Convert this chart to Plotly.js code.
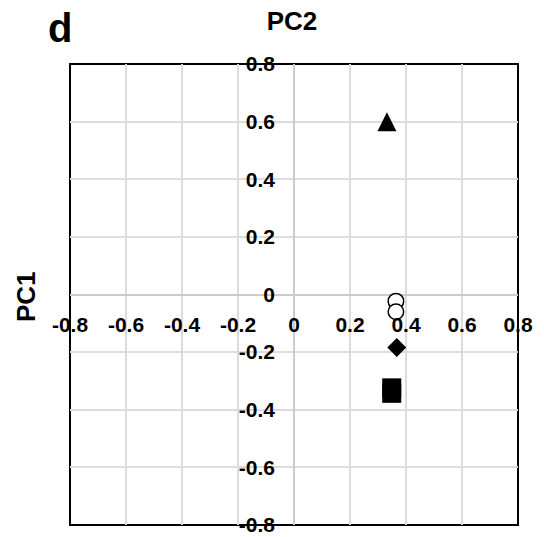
<!DOCTYPE html>
<html>
<head>
<meta charset="utf-8">
<script src="https://cdn.plot.ly/plotly-3.0.1.min.js"></script>
<style>html,body{margin:0;padding:0;background:#fff;}#chart{width:544px;height:537px;}</style>
</head>
<body>
<div id="chart"></div>
<script>
// Tick values and labels
const tickValues = [-0.8, -0.6, -0.4, -0.2, 0, 0.2, 0.4, 0.6, 0.8];
const tickLabels = ["-0.8", "-0.6", "-0.4", "-0.2", "0", "0.2", "0.4", "0.6", "0.8"];

// Series (PC2 on x, PC1 on y as drawn)
const triangleX = [0.332];
const triangleY = [0.600];
const circleX = [0.364, 0.364];
const circleY = [-0.023, -0.060];
const diamondX = [0.367];
const diamondY = [-0.184];
const squareX = [0.349, 0.349];
const squareY = [-0.324, -0.343];

const FONT = "Liberation Sans, Arial, Helvetica, sans-serif";

const traces = [
  {x: triangleX, y: triangleY, type: "scatter", mode: "markers",
   marker: {symbol: "arrow-down", angle: 180, size: 19, standoff: 9.5, color: "#000", line: {width: 0}}},
  {x: circleX, y: circleY, type: "scatter", mode: "markers",
   marker: {symbol: "circle", size: 15.5, color: "#fff", line: {color: "#000", width: 1.5}}},
  {x: diamondX, y: diamondY, type: "scatter", mode: "markers",
   marker: {symbol: "diamond", size: 14.5, color: "#000", line: {width: 0}}},
  {x: squareX, y: squareY, type: "scatter", mode: "markers",
   marker: {symbol: "square", size: 19, color: "#000", line: {width: 0}}}
];

const axisCommon = {
  range: [-0.8, 0.8],
  tickmode: "array",
  tickvals: tickValues,
  ticktext: tickLabels,
  showgrid: true,
  gridcolor: "#dcdcdc",
  gridwidth: 2,
  zeroline: true,
  zerolinecolor: "#cccccc",
  zerolinewidth: 2,
  showline: false,
  ticks: "",
  anchor: "free",
  position: 0.5,
  automargin: false,
  fixedrange: true,
  tickfont: {family: FONT, size: 21, color: "#000", weight: "bold"}
};

const layout = {
  width: 544,
  height: 537,
  margin: {l: 70, r: 26, t: 64, b: 12},
  paper_bgcolor: "#fff",
  plot_bgcolor: "#fff",
  showlegend: false,
  font: {family: FONT, color: "#000"},
  title: {text: "PC2", x: 292 / 544, xanchor: "center", xref: "container",
          y: 1 - 21 / 537, yanchor: "middle", yref: "container",
          font: {family: FONT, size: 26, color: "#000", weight: "bold"}},
  xaxis: Object.assign({}, axisCommon, {ticklabelstandoff: 15}),
  yaxis: Object.assign({}, axisCommon, {ticklabelstandoff: 19}),
  shapes: [
    {type: "rect", xref: "paper", yref: "paper", x0: 0, x1: 1, y0: 0, y1: 1,
     line: {color: "#000", width: 2}, fillcolor: "rgba(0,0,0,0)", layer: "below"}
  ],
  annotations: [
    {text: "d", xref: "paper", yref: "paper", x: -0.0234, y: 1.078,
     xanchor: "center", yanchor: "middle", showarrow: false,
     font: {family: FONT, size: 40, color: "#000", weight: "bold"}},
    {text: "PC1", xref: "paper", yref: "paper", x: -0.098, y: 0.4946,
     xanchor: "center", yanchor: "middle", showarrow: false, textangle: -90,
     font: {family: FONT, size: 26, color: "#000", weight: "bold"}}
  ]
};

Plotly.newPlot("chart", traces, layout, {displayModeBar: false, staticPlot: true});
</script>
</body>
</html>
